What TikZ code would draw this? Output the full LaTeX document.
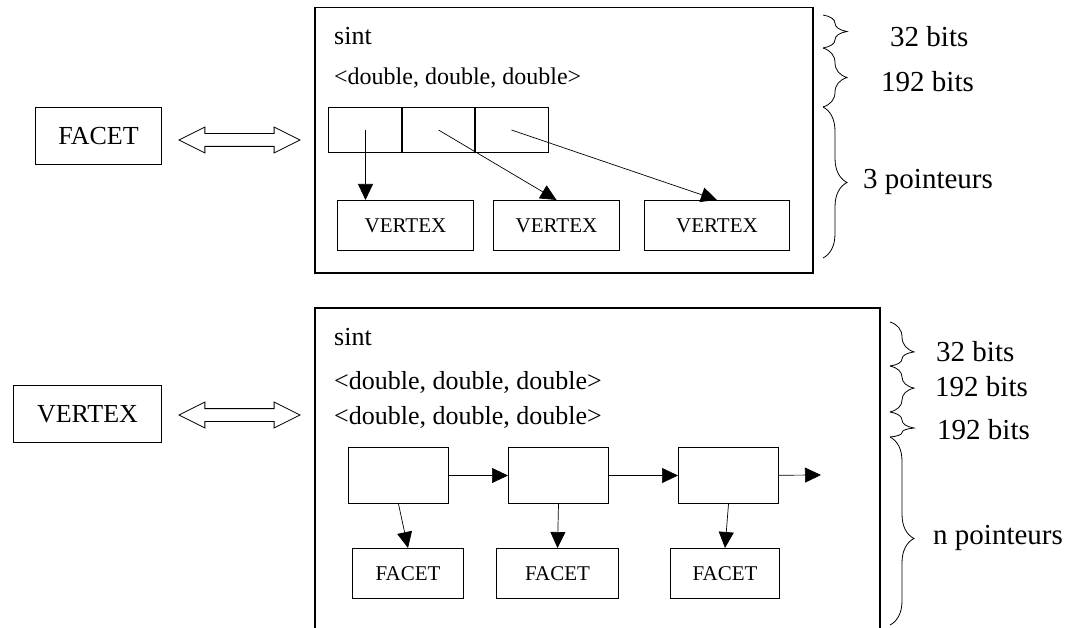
\documentclass[tikz,border=0pt]{standalone}
\usepackage{fontspec}
\setmainfont{Liberation Serif}
\usetikzlibrary{positioning, arrows.meta, decorations.pathreplacing, shapes.arrows}

\begin{document}
\begin{tikzpicture}[
      x=1pt, y=-1pt,
      font=\fontsize{26}{30}\selectfont,
      box/.style={
        draw,
        line width=1pt,
        inner sep=0pt,
        anchor=north west
      },
      small/.style={
        box,
        minimum height=50pt,
        font=\fontsize{21}{24}\selectfont
      },
      cell/.style={
        box,
        minimum width=74pt,
        minimum height=45pt
      },
      frame/.style={
        draw,
        line width=1.5pt,
        anchor=north west
      },
      txt/.style={
        anchor=base west,
        inner sep=0pt
      },
      equiv/.style={
        double arrow,
        draw,
        line width=0.8pt,
        inner sep=6pt,
        minimum width=0pt,
        double arrow head extend=6.5pt,
        double arrow tip angle=53,
        minimum height=121pt
      },
      ptr/.style={
        -{Triangle[length=16pt,width=15pt]},
        line width=0.7pt
      },
      size/.style={
        decorate,
        decoration={brace, amplitude=24pt, aspect=#1},
        line width=0.8pt
      },
      size/.default=0.5,
      bits/.style={
        anchor=west,
        inner sep=0pt,
        font=\fontsize{29}{32}\selectfont
      }
    ]

    \useasboundingbox (0,0) rectangle (1067,628);
    \clip (0,0) rectangle (1067,628);

    % facet record
    \node[box, minimum width=126pt, minimum height=57pt] (facet) at (35,107) {FACET};
    \node[equiv] (eqA) at (239.5,140) {};
    \node[frame, minimum width=498pt, minimum height=265pt] (facetRec) at (314,7) {};

    \node[txt] (fSint) at (334,45) {sint};
    \node[txt, font=\fontsize{24}{28}\selectfont] (fPos) at (334,85) {<double, double, double>};

    \node[cell] (cA) at (328,107) {};
    \node[cell, right=-2pt of cA] (cB) {};
    \node[cell, right=-2pt of cB] (cC) {};

    \node[small, minimum width=136pt] (vA) at (337,200) {VERTEX};
    \node[small, minimum width=126pt, right=19pt of vA] (vB) {VERTEX};
    \node[small, minimum width=145pt, right=24pt of vB] (vC) {VERTEX};

    \draw[ptr] (cA.center) -- (cA.center |- vA.north);
    \draw[ptr] (cB.center) -- (vB.north);
    \draw[ptr] (cC.center) -- (vC.north);

    \draw[size] (823,15) -- (823,48);
    \draw[size] (823,48) -- (823,107);
    \draw[size] (823,107) -- (823,258);
    \node[bits] (fBitsA) at (890,37) {32 bits};
    \node[bits] (fBitsB) at (881,82) {192 bits};
    \node[bits] (fBitsC) at (863,182) {3 pointeurs};

    % vertex record
    \node[box, minimum width=148pt, minimum height=57pt] (vertex) at (13,385) {VERTEX};
    \node[equiv] (eqB) at (239.5,415) {};
    \node[frame, minimum width=565pt, minimum height=360pt] (vertexRec) at (314,307) {};

    \node[txt] (vSint) at (334,345) {sint};
    \node[txt] (vPos) at (334,389) {<double, double, double>};
    \node[txt] (vNorm) at (334,424) {<double, double, double>};

    \node[box, minimum width=100pt, minimum height=56pt] (lA) at (348,447) {};
    \node[box, minimum width=100pt, minimum height=56pt, right=59pt of lA] (lB) {};
    \node[box, minimum width=100pt, minimum height=56pt, right=69pt of lB] (lC) {};
    \coordinate (lEnd) at (821,475);

    \draw[ptr] (lA) -- (lB);
    \draw[ptr] (lB) -- (lC);
    \draw[ptr] (lC) -- (lEnd);

    \node[small, minimum width=111pt] (fA) at (352,548) {FACET};
    \node[small, minimum width=122pt] (fB) at (496,548) {FACET};
    \node[small, minimum width=109pt] (fC) at (670,548) {FACET};

    \draw[ptr] (lA.south) -- (fA.north);
    \draw[ptr] (lB.south) -- (fB.north);
    \draw[ptr] (lC.south) -- (fC.north);

    \draw[size=0.68] (890,322) -- (890,366);
    \draw[size=0.48] (890,366) -- (890,412);
    \draw[size=0.64] (890,412) -- (890,437);
    \draw[size=0.54] (890,437) -- (890,625);
    \node[bits] (vBitsA) at (936,352) {32 bits};
    \node[bits] (vBitsB) at (935,387) {192 bits};
    \node[bits] (vBitsC) at (937,430) {192 bits};
    \node[bits] (vBitsD) at (933,538) {n pointeurs};

    \end{tikzpicture}
\end{document}
